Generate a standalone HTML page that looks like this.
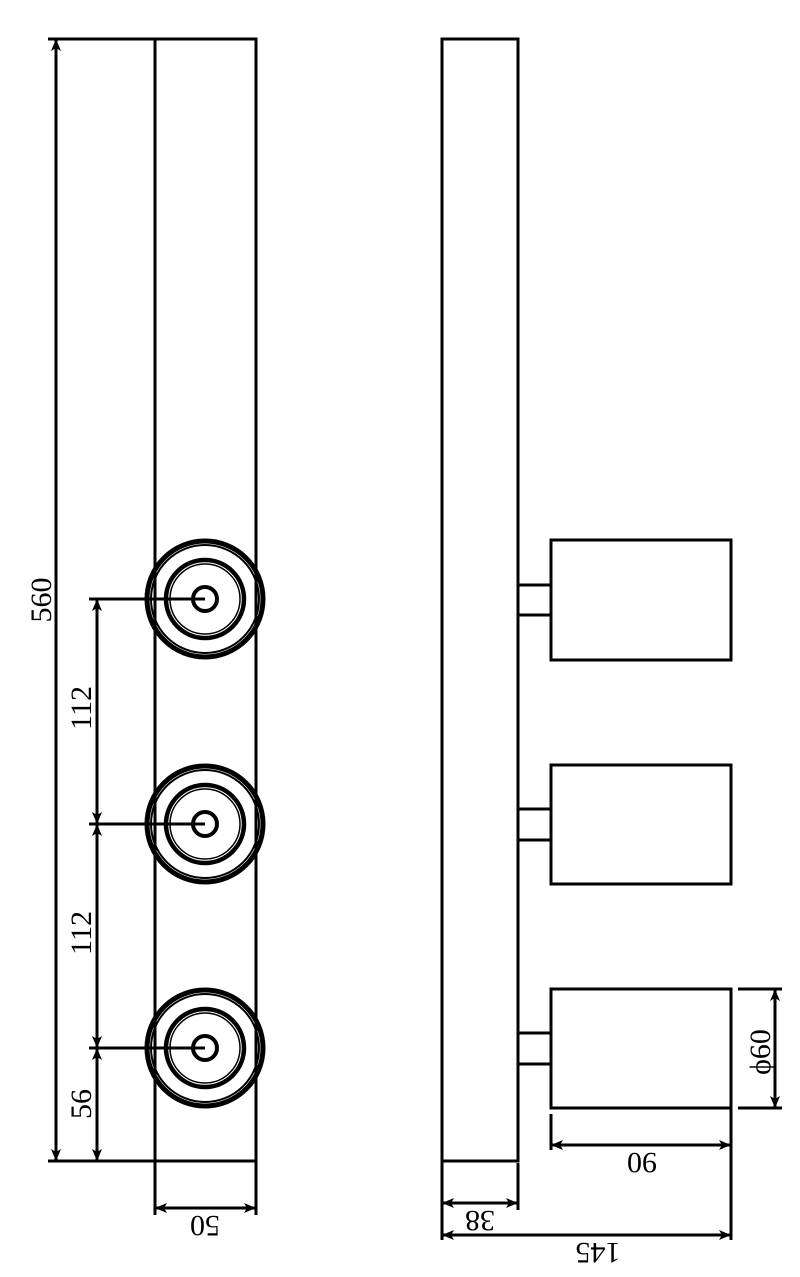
<!DOCTYPE html>
<html><head><meta charset="utf-8"><style>
html,body{margin:0;padding:0;background:#fff;}
svg{display:block;}
text{font-family:"Liberation Serif",serif;font-size:30px;fill:#000;}
</style></head><body>
<svg width="800" height="1277" viewBox="0 0 800 1277" xmlns="http://www.w3.org/2000/svg">
<defs>
<marker id="a" viewBox="0 0 12 10" refX="12" refY="5" markerWidth="12" markerHeight="10" markerUnits="userSpaceOnUse" orient="auto-start-reverse">
<path d="M0,0 L12,5 L0,10 L3,5 Z" fill="#000"/>
</marker>
</defs>
<g stroke="#000" stroke-width="3" fill="none">
<rect x="155" y="39" width="101" height="1122"/>
<g id="c">
<circle cx="205" cy="599" r="58" stroke-width="5"/>
<circle cx="205" cy="599" r="54" stroke-width="2"/>
<circle cx="205" cy="599" r="39" stroke-width="4.5"/>
<circle cx="205" cy="599" r="35" stroke-width="1.5"/>
<circle cx="205" cy="599" r="12" stroke-width="4"/>
</g>
<use href="#c" y="225"/>
<use href="#c" y="449"/>
<line x1="48" y1="39" x2="155" y2="39"/>
<line x1="48" y1="1161" x2="155" y2="1161"/>
<line x1="56" y1="39" x2="56" y2="1161" marker-start="url(#a)" marker-end="url(#a)"/>
<line x1="89" y1="599" x2="205" y2="599"/>
<line x1="89" y1="824" x2="205" y2="824"/>
<line x1="89" y1="1048" x2="205" y2="1048"/>
<line x1="97" y1="599" x2="97" y2="824" marker-start="url(#a)" marker-end="url(#a)"/>
<line x1="97" y1="824" x2="97" y2="1048" marker-start="url(#a)" marker-end="url(#a)"/>
<line x1="97" y1="1048" x2="97" y2="1161" marker-start="url(#a)" marker-end="url(#a)"/>
<line x1="155" y1="1161" x2="155" y2="1215"/>
<line x1="256" y1="1161" x2="256" y2="1215"/>
<line x1="155" y1="1208" x2="256" y2="1208" marker-start="url(#a)" marker-end="url(#a)"/>
<rect x="442" y="39" width="76" height="1122"/>
<rect x="551" y="540" width="180" height="120"/>
<rect x="551" y="765" width="180" height="119"/>
<rect x="551" y="989" width="180" height="119"/>
<line x1="518" y1="585" x2="551" y2="585"/><line x1="518" y1="615" x2="551" y2="615"/>
<line x1="518" y1="809" x2="551" y2="809"/><line x1="518" y1="840" x2="551" y2="840"/>
<line x1="518" y1="1033" x2="551" y2="1033"/><line x1="518" y1="1064" x2="551" y2="1064"/>
<line x1="738" y1="989" x2="782" y2="989"/>
<line x1="738" y1="1108" x2="782" y2="1108"/>
<line x1="775" y1="989" x2="775" y2="1108" marker-start="url(#a)" marker-end="url(#a)"/>
<line x1="551" y1="1114" x2="551" y2="1150"/>
<line x1="731" y1="1108" x2="731" y2="1240"/>
<line x1="551" y1="1145" x2="731" y2="1145" marker-start="url(#a)" marker-end="url(#a)"/>
<line x1="442" y1="1161" x2="442" y2="1240"/>
<line x1="518" y1="1163" x2="518" y2="1210"/>
<line x1="442" y1="1203" x2="518" y2="1203" marker-start="url(#a)" marker-end="url(#a)"/>
<line x1="442" y1="1235" x2="731" y2="1235" marker-start="url(#a)" marker-end="url(#a)"/>
</g>
<text transform="translate(51,600) rotate(-90)" text-anchor="middle">560</text>
<text transform="translate(91,708) rotate(-90)" text-anchor="middle">112</text>
<text transform="translate(91,933) rotate(-90)" text-anchor="middle">112</text>
<text transform="translate(91,1104) rotate(-90)" text-anchor="middle">56</text>
<text transform="translate(205,1216) rotate(180)" text-anchor="middle">50</text>
<text transform="translate(770,1052) rotate(-90)" text-anchor="middle">ϕ60</text>
<text transform="translate(642,1153) rotate(180)" text-anchor="middle">90</text>
<text transform="translate(480,1211) rotate(180)" text-anchor="middle">38</text>
<text transform="translate(598,1243) rotate(180)" text-anchor="middle">145</text>
</svg>
</body></html>
